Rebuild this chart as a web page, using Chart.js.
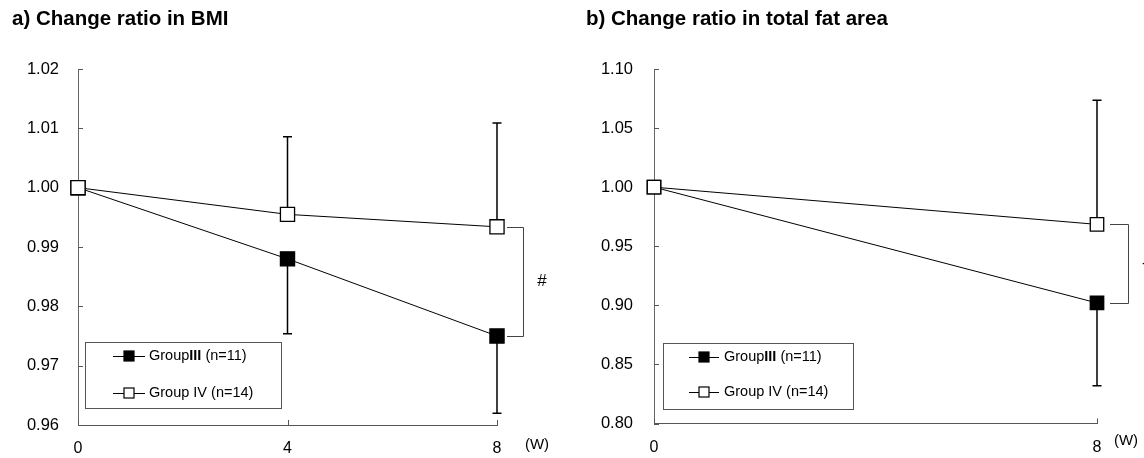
<!DOCTYPE html>
<html>
<head>
<meta charset="utf-8">
<script src="https://cdn.jsdelivr.net/npm/chart.js@4.4.1/dist/chart.umd.min.js"></script>
<style>
  body { margin: 0; background: #fff; }
  .panel { position: absolute; top: 0; width: 572px; height: 458px; }
</style>
</head>
<body>
<div class="panel" style="left:0"><canvas id="bmiChart" width="572" height="458"></canvas></div>
<div class="panel" style="left:572px"><canvas id="fatChart" width="572" height="458"></canvas></div>
<script>
// a) change ratio in BMI
const bmiWeeks = [0, 4, 8];
const bmiGroup3 = [1.000, 0.988, 0.975];
const bmiGroup3Sd = [0, 0.0126, 0.0130];
const bmiGroup4 = [1.000, 0.9955, 0.9934];
const bmiGroup4Sd = [0, 0.0131, 0.0175];
const bmiYTicks = [0.96, 0.97, 0.98, 0.99, 1.00, 1.01, 1.02];
const bmiXTicks = [0, 4, 8];

// b) change ratio in total fat area
const fatWeeks = [0, 8];
const fatGroup3 = [1.000, 0.902];
const fatGroup3Sd = [0, 0.070];
const fatGroup4 = [1.000, 0.9685];
const fatGroup4Sd = [0, 0.105];
const fatYTicks = [0.80, 0.85, 0.90, 0.95, 1.00, 1.05, 1.10];
const fatXTicks = [0, 8];

// legend text, pieces with bold flag
const group3Label = [['Group', false], ['III', true], [' (n=11)', false]];
const group4Label = [['Group IV (n=14)', false]];

const FONT = '"Liberation Sans", Arial, sans-serif';

function makeDatasets(weeks, g3, g3sd, g4, g4sd, r) {
    const common = {
        borderColor: '#000', borderWidth: 1, pointStyle: 'rect', pointRadius: r,
        pointBorderColor: '#000', pointBorderWidth: 1.3, clip: false, tension: 0
    };
    return [
        Object.assign({ label: 'Group IV', order: 0, sd: g4sd, dir: 1, pointBackgroundColor: '#fff',
            data: weeks.map((w, i) => ({ x: w, y: g4[i] })) }, common),
        Object.assign({ label: 'Group III', order: 1, sd: g3sd, dir: -1, pointBackgroundColor: '#000',
            data: weeks.map((w, i) => ({ x: w, y: g3[i] })) }, common)
    ];
}

// one-sided SD bars
const errorBars = {
    id: 'errorBars',
    beforeDatasetsDraw(chart) {
        const ctx = chart.ctx, y = chart.scales.y;
        ctx.save();
        ctx.strokeStyle = '#000';
        ctx.lineWidth = 1.5;
        chart.data.datasets.forEach((ds, di) => {
            chart.getDatasetMeta(di).data.forEach((pt, i) => {
                const sd = ds.sd[i];
                if (!sd) return;
                const end = y.getPixelForValue(ds.data[i].y + ds.dir * sd);
                ctx.beginPath();
                ctx.moveTo(pt.x, pt.y);
                ctx.lineTo(pt.x, end);
                ctx.moveTo(pt.x - 4.5, end);
                ctx.lineTo(pt.x + 4.5, end);
                ctx.stroke();
            });
        });
        ctx.restore();
    }
};

// tick marks pointing into the plot
const innerTicks = {
    id: 'innerTicks',
    beforeDatasetsDraw(chart) {
        const { ctx, chartArea, scales: { x, y } } = chart;
        ctx.save();
        ctx.strokeStyle = '#555';
        ctx.lineWidth = 1;
        ctx.beginPath();
        y.ticks.forEach(t => {
            const py = Math.round(y.getPixelForValue(t.value)) + 0.5;
            ctx.moveTo(chartArea.left, py);
            ctx.lineTo(chartArea.left + 5, py);
        });
        x.ticks.forEach(t => {
            const px = Math.round(x.getPixelForValue(t.value)) + 0.5;
            ctx.moveTo(px, chartArea.bottom);
            ctx.lineTo(px, chartArea.bottom - 5);
        });
        ctx.stroke();
        ctx.restore();
    }
};

function drawPieces(ctx, pieces, x, y) {
    pieces.forEach(([text, bold]) => {
        ctx.font = (bold ? 'bold ' : '') + '14.5px ' + FONT;
        ctx.fillText(text, x, y);
        x += ctx.measureText(text).width;
    });
}

// title, legend box, bracket, unit label
const panelDecor = {
    id: 'panelDecor',
    afterDraw(chart, args, o) {
        const ctx = chart.ctx, ca = chart.chartArea;
        ctx.save();
        ctx.fillStyle = '#000';

        ctx.font = 'bold 20.5px ' + FONT;
        ctx.textBaseline = 'alphabetic';
        ctx.fillText(o.title, o.titleX, 24.5);

        ctx.font = '15px ' + FONT;
        ctx.textAlign = 'center';
        ctx.textBaseline = 'middle';
        ctx.fillText('(W)', ca.right + o.unitDx, o.unitY);

        // bracket between the two last points
        const d4 = chart.getDatasetMeta(0).data, d3 = chart.getDatasetMeta(1).data;
        const p4 = d4[d4.length - 1], p3 = d3[d3.length - 1];
        const bx0 = p4.x + o.bracketGap, bx1 = p4.x + o.bracketReach;
        ctx.strokeStyle = '#444';
        ctx.lineWidth = 1;
        ctx.beginPath();
        ctx.moveTo(bx0, Math.round(p4.y) + 0.5);
        ctx.lineTo(Math.round(bx1) + 0.5, Math.round(p4.y) + 0.5);
        ctx.lineTo(Math.round(bx1) + 0.5, Math.round(p3.y) + 0.5);
        ctx.lineTo(bx0, Math.round(p3.y) + 0.5);
        ctx.stroke();
        ctx.font = '17px ' + FONT;
        ctx.textAlign = o.markAlign;
        ctx.fillText(o.mark, p4.x + o.markDx, (p4.y + p3.y) / 2);

        // legend box
        const lx = ca.left + o.legendDx, ly = o.legendTop;
        ctx.strokeStyle = '#555';
        ctx.strokeRect(Math.round(lx) + 0.5, ly + 0.5, o.legendW, o.legendH);
        const rows = [[group3Label, '#000', o.row1], [group4Label, '#fff', o.row2]];
        rows.forEach(([pieces, fill, dy]) => {
            const ry = ly + dy;
            ctx.strokeStyle = '#000';
            ctx.beginPath();
            ctx.moveTo(lx + o.sampleX0, Math.round(ry) + 0.5);
            ctx.lineTo(lx + o.sampleX1, Math.round(ry) + 0.5);
            ctx.stroke();
            const cx = lx + (o.sampleX0 + o.sampleX1) / 2;
            ctx.fillStyle = fill;
            ctx.fillRect(cx - 5, ry - 5, 10, 10);
            ctx.lineWidth = 1.2;
            ctx.strokeRect(cx - 5, ry - 5, 10, 10);
            ctx.lineWidth = 1;
            ctx.fillStyle = '#000';
            ctx.textAlign = 'left';
            ctx.textBaseline = 'middle';
            drawPieces(ctx, pieces, lx + o.textX, ry);
        });
        ctx.restore();
    }
};

function makeScales(xTicks, yTicks, yWidth, xHeight, yPad, xPad) {
    return {
        x: {
            type: 'linear', min: xTicks[0], max: xTicks[xTicks.length - 1],
            afterBuildTicks: s => { s.ticks = xTicks.map(v => ({ value: v })); },
            afterFit: s => { s.height = xHeight; },
            grid: { display: false, drawTicks: false },
            border: { color: '#555', width: 1 },
            ticks: { padding: xPad, color: '#000', font: { family: FONT, size: 16 }, callback: v => v }
        },
        y: {
            min: yTicks[0], max: yTicks[yTicks.length - 1],
            afterBuildTicks: s => { s.ticks = yTicks.map(v => ({ value: v })); },
            afterFit: s => { s.width = yWidth; },
            grid: { display: false, drawTicks: false },
            border: { color: '#666', width: 1 },
            ticks: { padding: yPad, color: '#000', font: { family: FONT, size: 16.5 }, callback: v => v.toFixed(2) }
        }
    };
}

new Chart(document.getElementById('bmiChart'), {
    type: 'line',
    data: { datasets: makeDatasets(bmiWeeks, bmiGroup3, bmiGroup3Sd, bmiGroup4, bmiGroup4Sd, 10) },
    options: {
        responsive: false,
        animation: false,
        layout: { padding: { left: 12, right: 75, top: 69, bottom: 0 } },
        scales: makeScales(bmiXTicks, bmiYTicks, 66, 33, 19, 14),
        plugins: {
            legend: { display: false },
            tooltip: { enabled: false },
            panelDecor: {
                title: 'a) Change ratio in BMI', titleX: 12,
                unitDx: 40, unitY: 445,
                bracketGap: 10, bracketReach: 26, mark: '#', markDx: 45, markAlign: 'center',
                legendDx: 7, legendTop: 342, legendW: 196, legendH: 66,
                row1: 14, row2: 51, sampleX0: 28, sampleX1: 60, textX: 64
            }
        }
    },
    plugins: [innerTicks, errorBars, panelDecor]
});

new Chart(document.getElementById('fatChart'), {
    type: 'line',
    data: { datasets: makeDatasets(fatWeeks, fatGroup3, fatGroup3Sd, fatGroup4, fatGroup4Sd, 9.5) },
    options: {
        responsive: false,
        animation: false,
        layout: { padding: { left: 14, right: 47, top: 69, bottom: 0 } },
        scales: makeScales(fatXTicks, fatYTicks, 68, 34.5, 21, 14),
        plugins: {
            legend: { display: false },
            tooltip: { enabled: false },
            panelDecor: {
                title: 'b) Change ratio in total fat area', titleX: 14,
                unitDx: 29, unitY: 441,
                bracketGap: 13, bracketReach: 31, mark: '-', markDx: 45, markAlign: 'left',
                legendDx: 9, legendTop: 343, legendW: 190, legendH: 66,
                row1: 14, row2: 49, sampleX0: 26, sampleX1: 56, textX: 61
            }
        }
    },
    plugins: [innerTicks, errorBars, panelDecor]
});
</script>
</body>
</html>
